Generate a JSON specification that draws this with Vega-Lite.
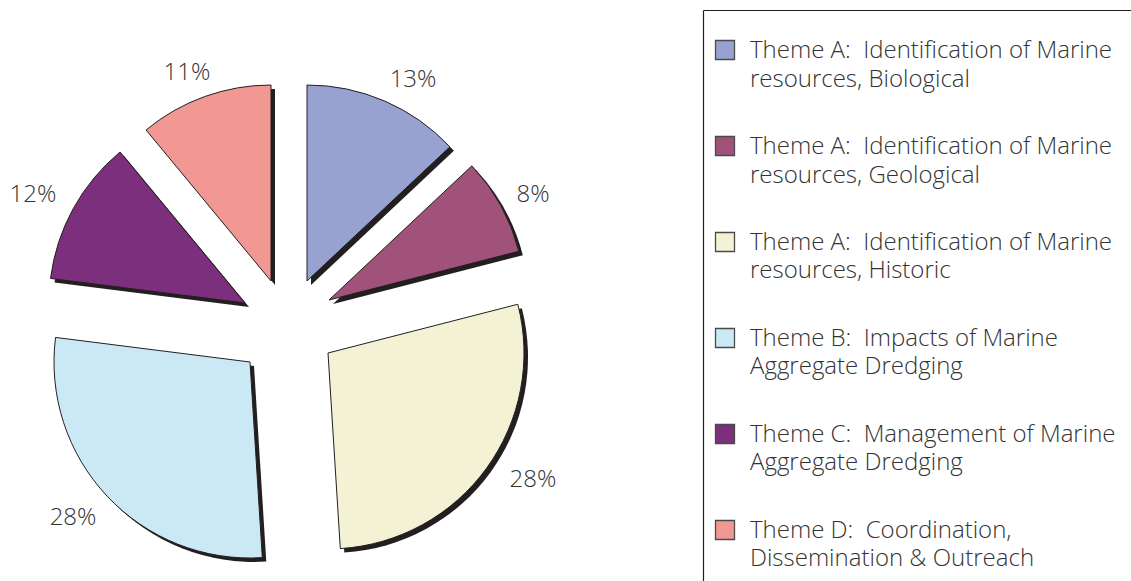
{
  "$schema": "https://vega.github.io/schema/vega-lite/v6.json",
  "padding": 0,
  "background": "white",
  "bounds": "flush",
  "spacing": 103,
  "config": {"view": {"stroke": null}, "font": "Open Sans"},
  "datasets": {
    "themes": [
      {"order": 1, "theme": "Theme A:\u00a0 Identification of Marine\nresources, Biological", "share": 0.13},
      {"order": 2, "theme": "Theme A:\u00a0 Identification of Marine\nresources, Geological", "share": 0.08},
      {"order": 3, "theme": "Theme A:\u00a0 Identification of Marine\nresources, Historic", "share": 0.28},
      {"order": 4, "theme": "Theme B:\u00a0 Impacts of Marine\nAggregate Dredging", "share": 0.28},
      {"order": 5, "theme": "Theme C:\u00a0 Management of Marine\nAggregate Dredging", "share": 0.12},
      {"order": 6, "theme": "Theme D:\u00a0 Coordination,\nDissemination & Outreach", "share": 0.11}
    ]
  },
  "hconcat": [
    {
      "width": 600,
      "height": 581,
      "data": {"name": "themes"},
      "encoding": {
        "theta": {"field": "share", "type": "quantitative", "stack": true},
        "order": {"field": "order", "type": "quantitative", "sort": "ascending"}
      },
      "layer": [
        {"mark": {"type": "arc", "radius": 196, "fill": "#231f20", "xOffset": 11, "yOffset": -5.5}, "encoding": {"opacity": {"condition": {"test": "datum.order === 1", "value": 1}, "value": 0}}},
        {"mark": {"type": "arc", "radius": 196, "fill": "#231f20", "xOffset": 33, "yOffset": 13.5}, "encoding": {"opacity": {"condition": {"test": "datum.order === 2", "value": 1}, "value": 0}}},
        {"mark": {"type": "arc", "radius": 196, "fill": "#231f20", "xOffset": 32, "yOffset": 66.5}, "encoding": {"opacity": {"condition": {"test": "datum.order === 3", "value": 1}, "value": 0}}},
        {"mark": {"type": "arc", "radius": 196, "fill": "#231f20", "xOffset": -46, "yOffset": 75.5}, "encoding": {"opacity": {"condition": {"test": "datum.order === 4", "value": 1}, "value": 0}}},
        {"mark": {"type": "arc", "radius": 196, "fill": "#231f20", "xOffset": -51, "yOffset": 16.5}, "encoding": {"opacity": {"condition": {"test": "datum.order === 5", "value": 1}, "value": 0}}},
        {"mark": {"type": "arc", "radius": 196, "fill": "#231f20", "xOffset": -25, "yOffset": -5.5}, "encoding": {"opacity": {"condition": {"test": "datum.order === 6", "value": 1}, "value": 0}}},

        {"mark": {"type": "arc", "radius": 196, "stroke": "#231f20", "strokeWidth": 1, "xOffset": 7, "yOffset": -9.5}, "encoding": {"color": {"field": "order", "type": "ordinal", "scale": {"domain": [1, 2, 3, 4, 5, 6], "range": ["#98a2d0", "#a1527a", "#f3f2d4", "#cbe9f4", "#7c2f7c", "#f29893"]}, "legend": null}, "opacity": {"condition": {"test": "datum.order === 1", "value": 1}, "value": 0}}},
        {"mark": {"type": "arc", "radius": 196, "stroke": "#231f20", "strokeWidth": 1, "xOffset": 29, "yOffset": 9.5}, "encoding": {"color": {"field": "order", "type": "ordinal", "legend": null}, "opacity": {"condition": {"test": "datum.order === 2", "value": 1}, "value": 0}}},
        {"mark": {"type": "arc", "radius": 196, "stroke": "#231f20", "strokeWidth": 1, "xOffset": 28, "yOffset": 62.5}, "encoding": {"color": {"field": "order", "type": "ordinal", "legend": null}, "opacity": {"condition": {"test": "datum.order === 3", "value": 1}, "value": 0}}},
        {"mark": {"type": "arc", "radius": 196, "stroke": "#231f20", "strokeWidth": 1, "xOffset": -50, "yOffset": 71.5}, "encoding": {"color": {"field": "order", "type": "ordinal", "legend": null}, "opacity": {"condition": {"test": "datum.order === 4", "value": 1}, "value": 0}}},
        {"mark": {"type": "arc", "radius": 196, "stroke": "#231f20", "strokeWidth": 1, "xOffset": -55, "yOffset": 12.5}, "encoding": {"color": {"field": "order", "type": "ordinal", "legend": null}, "opacity": {"condition": {"test": "datum.order === 5", "value": 1}, "value": 0}}},
        {"mark": {"type": "arc", "radius": 196, "stroke": "#231f20", "strokeWidth": 1, "xOffset": -29, "yOffset": -9.5}, "encoding": {"color": {"field": "order", "type": "ordinal", "legend": null}, "opacity": {"condition": {"test": "datum.order === 6", "value": 1}, "value": 0}}},

        {"mark": {"type": "text", "radius": 230, "fontSize": 24, "fontWeight": 300, "fill": "#333333", "xOffset": 21.7, "yOffset": 0.6}, "encoding": {"text": {"field": "share", "type": "quantitative", "format": ".0%"}, "opacity": {"condition": {"test": "datum.order === 1", "value": 1}, "value": 0}}},
        {"mark": {"type": "text", "radius": 230, "fontSize": 24, "fontWeight": 300, "fill": "#333333", "xOffset": 31.5, "yOffset": 15.3}, "encoding": {"text": {"field": "share", "type": "quantitative", "format": ".0%"}, "opacity": {"condition": {"test": "datum.order === 2", "value": 1}, "value": 0}}},
        {"mark": {"type": "text", "radius": 230, "fontSize": 24, "fontWeight": 300, "fill": "#333333", "xOffset": 46.9, "yOffset": 54.3}, "encoding": {"text": {"field": "share", "type": "quantitative", "format": ".0%"}, "opacity": {"condition": {"test": "datum.order === 3", "value": 1}, "value": 0}}},
        {"mark": {"type": "text", "radius": 230, "fontSize": 24, "fontWeight": 300, "fill": "#333333", "xOffset": -59.3, "yOffset": 69.9}, "encoding": {"text": {"field": "share", "type": "quantitative", "format": ".0%"}, "opacity": {"condition": {"test": "datum.order === 4", "value": 1}, "value": 0}}},
        {"mark": {"type": "text", "radius": 230, "fontSize": 24, "fontWeight": 300, "fill": "#333333", "xOffset": -65.5, "yOffset": 15.3}, "encoding": {"text": {"field": "share", "type": "quantitative", "format": ".0%"}, "opacity": {"condition": {"test": "datum.order === 5", "value": 1}, "value": 0}}},
        {"mark": {"type": "text", "radius": 230, "fontSize": 24, "fontWeight": 300, "fill": "#333333", "xOffset": -35.1, "yOffset": -1.1}, "encoding": {"text": {"field": "share", "type": "quantitative", "format": ".0%"}, "opacity": {"condition": {"test": "datum.order === 6", "value": 1}, "value": 0}}}
      ]
    },
    {
      "width": 428,
      "height": 581,
      "data": {"name": "themes"},
      "encoding": {
        "y": {
          "field": "order", "type": "quantitative",
          "scale": {"domain": [0.5833, 6.5313], "range": [10, 581], "zero": false, "nice": false},
          "axis": {"domain": true, "domainColor": "#231f20", "domainWidth": 1.2, "ticks": false, "labels": false, "grid": false, "title": null, "minExtent": 0, "maxExtent": 0}
        }
      },
      "layer": [
        {
          "mark": {"type": "point", "shape": "square", "size": 361, "filled": true, "stroke": "#4a4a4a", "strokeWidth": 1.3, "opacity": 1},
          "encoding": {
            "x": {"datum": 22, "type": "quantitative", "scale": {"domain": [0, 428], "range": [0, 428], "zero": false, "nice": false},
                  "axis": {"orient": "top", "offset": -10, "domain": true, "domainColor": "#231f20", "domainWidth": 1.2, "ticks": false, "labels": false, "grid": false, "title": null, "minExtent": 0, "maxExtent": 0}},
            "fill": {"field": "order", "type": "ordinal", "scale": {"domain": [1, 2, 3, 4, 5, 6], "range": ["#98a2d0", "#a1527a", "#f3f2d4", "#cbe9f4", "#7c2f7c", "#f29893"]}, "legend": null}
          }
        },
        {
          "mark": {"type": "text", "align": "left", "baseline": "alphabetic", "dy": 8, "lineBreak": "\n", "lineHeight": 28.5, "fontSize": 24, "fontWeight": 300, "fill": "#333333"},
          "encoding": {
            "x": {"datum": 47, "type": "quantitative"},
            "text": {"field": "theme", "type": "nominal"}
          }
        }
      ]
    }
  ]
}
